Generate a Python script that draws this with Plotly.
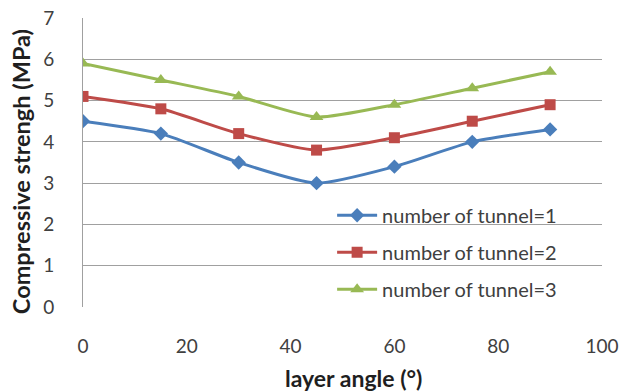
import plotly.graph_objects as go

# Layer angle (degrees) and compressive strength (MPa) per tunnel count
angles = [0, 15, 30, 45, 60, 75, 90]
tunnel_1 = [4.5, 4.2, 3.5, 3.0, 3.4, 4.0, 4.3]
tunnel_2 = [5.1, 4.8, 4.2, 3.8, 4.1, 4.5, 4.9]
tunnel_3 = [5.9, 5.5, 5.1, 4.6, 4.9, 5.3, 5.7]
series_names = ["number of tunnel=1", "number of tunnel=2", "number of tunnel=3"]
x_ticks = [0, 20, 40, 60, 80, 100]
y_ticks = [0, 1, 2, 3, 4, 5, 6, 7]
x_title = "layer angle (°)"
y_title = "Compressive strengh (MPa)"

colors = ["#4a7ebb", "#be4b48", "#98b954"]
symbols = ["diamond", "square", "triangle-up"]
sizes = [11, 11, 12]

fig = go.Figure()
for i, (name, vals) in enumerate(zip(series_names, [tunnel_1, tunnel_2, tunnel_3])):
    fig.add_trace(go.Scatter(
        x=angles, y=vals, name=name, mode="lines+markers",
        legendgroup=f"g{i}",
        line=dict(color=colors[i], width=3, shape="spline", smoothing=0.6),
        marker=dict(symbol=symbols[i], size=sizes[i], color=colors[i]),
    ))

font_family = "Lato, Open Sans, sans-serif"
tick_color = "#404040"
title_color = "#1f1f1f"

fig.update_layout(
    width=620, height=392,
    margin=dict(l=83, r=18, t=18, b=85, autoexpand=False),
    paper_bgcolor="white", plot_bgcolor="white",
    font=dict(family=font_family, size=18, color=tick_color),
    showlegend=True,
    legend=dict(
        x=0.48, y=0.385, xanchor="left", yanchor="top",
        bgcolor="rgba(0,0,0,0)", tracegroupgap=8,
        font=dict(size=20, color=tick_color),
        itemwidth=40,
    ),
    xaxis=dict(
        range=[0, 100], tickvals=x_ticks, showgrid=False, zeroline=False,
        showline=False, ticks="", tickfont=dict(size=19, color=tick_color),
        ticklabelstandoff=26, automargin=False,
    ),
    yaxis=dict(
        range=[0, 7], tickvals=y_ticks, showgrid=True, gridcolor="#a0a0a0", gridwidth=1,
        zeroline=False, showline=True, linecolor="#a0a0a0", linewidth=1, ticks="",
        tickfont=dict(size=19, color=tick_color), ticklabelstandoff=24, automargin=False,
    ),
    annotations=[
        dict(text=f"<b>{x_title}</b>", xref="paper", yref="paper", x=0.522, y=-0.246,
             xanchor="center", yanchor="middle", showarrow=False,
             font=dict(size=23, color=title_color)),
        dict(text=f"<b>{y_title}</b>", xref="paper", yref="paper", x=-0.1195, y=0.47,
             xanchor="center", yanchor="middle", showarrow=False, textangle=-90,
             font=dict(size=23.5, color=title_color)),
    ],
)

fig.write_html("out.html")
